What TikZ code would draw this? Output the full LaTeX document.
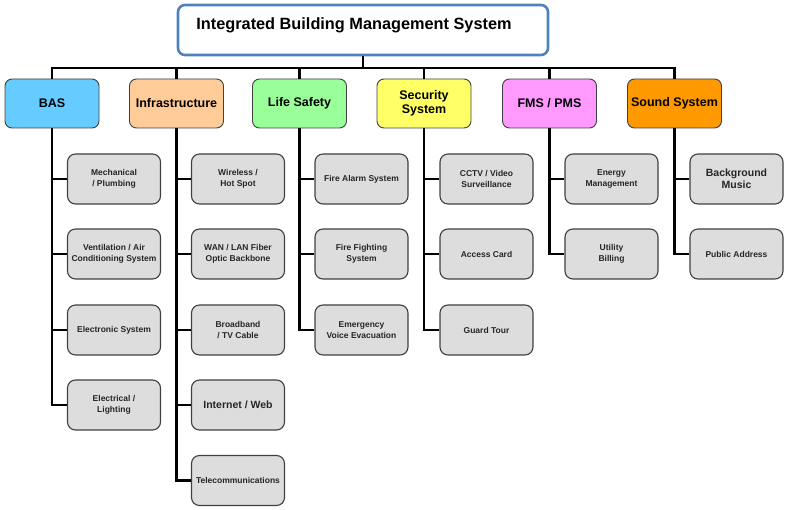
\documentclass[tikz,border=0pt]{standalone}
\usepackage{fontspec}
\setmainfont{Liberation Sans}
\definecolor{topblue}{HTML}{4F81BD}
\definecolor{cbas}{HTML}{66CCFF}
\definecolor{cinfra}{HTML}{FFCC99}
\definecolor{clife}{HTML}{99FF99}
\definecolor{csec}{HTML}{FFFF66}
\definecolor{cfms}{HTML}{FF99FF}
\definecolor{csound}{HTML}{FF9900}
\definecolor{childfill}{HTML}{DDDDDD}
\definecolor{boxborder}{HTML}{404040}
\begin{document}
\begin{tikzpicture}[x=1pt,y=-1pt,
  cat/.style={draw=boxborder, line width=0.9pt, rounded corners=7pt, minimum width=94pt, minimum height=49pt, align=center, font=\bfseries\fontsize{12.5}{14}\selectfont, inner sep=2pt},
  child/.style={draw=boxborder, line width=1.1pt, fill=childfill, rounded corners=8pt, minimum width=93pt, minimum height=50pt, align=center, font=\bfseries\fontsize{8.5}{11}\selectfont, inner sep=1pt, text=black!85},
  big/.style={font=\bfseries\fontsize{10.5}{12.5}\selectfont},
  conn/.style={line width=2.5pt, black}]
\useasboundingbox (0,0) rectangle (788,510);
% top
\node[draw=topblue, line width=2.6pt, rounded corners=7pt, fill=white, minimum width=370pt, minimum height=50pt,
  label={[font=\bfseries\fontsize{16.3}{19}\selectfont, xshift=-9pt, yshift=5pt]center:Integrated Building Management System}] (ibms) at (363,30) {};
% categories
\node[cat, fill=cbas] (bas) at (52,103.5) {BAS};
\node[cat, fill=cinfra] (infra) at (176.5,103.5) {Infrastructure};
\node[cat, fill=clife] (life) at (299.5,103.5) {Life Safety};
\node[cat, fill=csec] (sec) at (424,103.5) {Security\\System};
\node[cat, fill=cfms] (fms) at (549.5,103.5) {FMS / PMS};
\node[cat, fill=csound] (sound) at (674.5,103.5) {Sound System};
% bus
\coordinate (j) at (363,68);
\draw[conn] (ibms.south) -- (j);
\draw[conn, line join=miter] (bas.north) |- (j);
\draw[conn, line join=miter] (sound.north) |- (j);
\foreach \n in {infra,life,sec,fms} \draw[conn] (\n.north) -- (\n.north |- j);
% BAS children
\node[child] (b1) at (114,179) {Mechanical\\/ Plumbing};
\node[child] (b2) at (114,254) {Ventilation / Air\\Conditioning System};
\node[child] (b3) at (114,330) {Electronic System};
\node[child] (b4) at (114,405) {Electrical /\\Lighting};
% Infrastructure children
\node[child] (i1) at (238,179) {Wireless /\\Hot Spot};
\node[child] (i2) at (238,254) {WAN / LAN Fiber\\Optic Backbone};
\node[child] (i3) at (238,330) {Broadband\\/ TV Cable};
\node[child, big] (i4) at (238,405) {Internet / Web};
\node[child] (i5) at (238,480.5) {Telecommunications};
% Life Safety children
\node[child] (l1) at (361.5,179) {Fire Alarm System};
\node[child] (l2) at (361.5,254) {Fire Fighting\\System};
\node[child] (l3) at (361.5,330) {Emergency\\Voice Evacuation};
% Security children
\node[child] (s1) at (486.5,179) {CCTV / Video\\Surveillance};
\node[child] (s2) at (486.5,254) {Access Card};
\node[child] (s3) at (486.5,330) {Guard Tour};
% FMS children
\node[child] (f1) at (611.5,179) {Energy\\Management};
\node[child] (f2) at (611.5,254) {Utility\\Billing};
% Sound children
\node[child, big] (o1) at (736.5,179) {Background\\Music};
\node[child] (o2) at (736.5,254) {Public Address};
% branches
\foreach \p/\cs in {bas/{b1,b2,b3,b4}, infra/{i1,i2,i3,i4,i5}, life/{l1,l2,l3}, sec/{s1,s2,s3}, fms/{f1,f2}, sound/{o1,o2}}
  \foreach \c in \cs \draw[conn, line join=miter] (\p.south) |- (\c.west);
\end{tikzpicture}
\end{document}
